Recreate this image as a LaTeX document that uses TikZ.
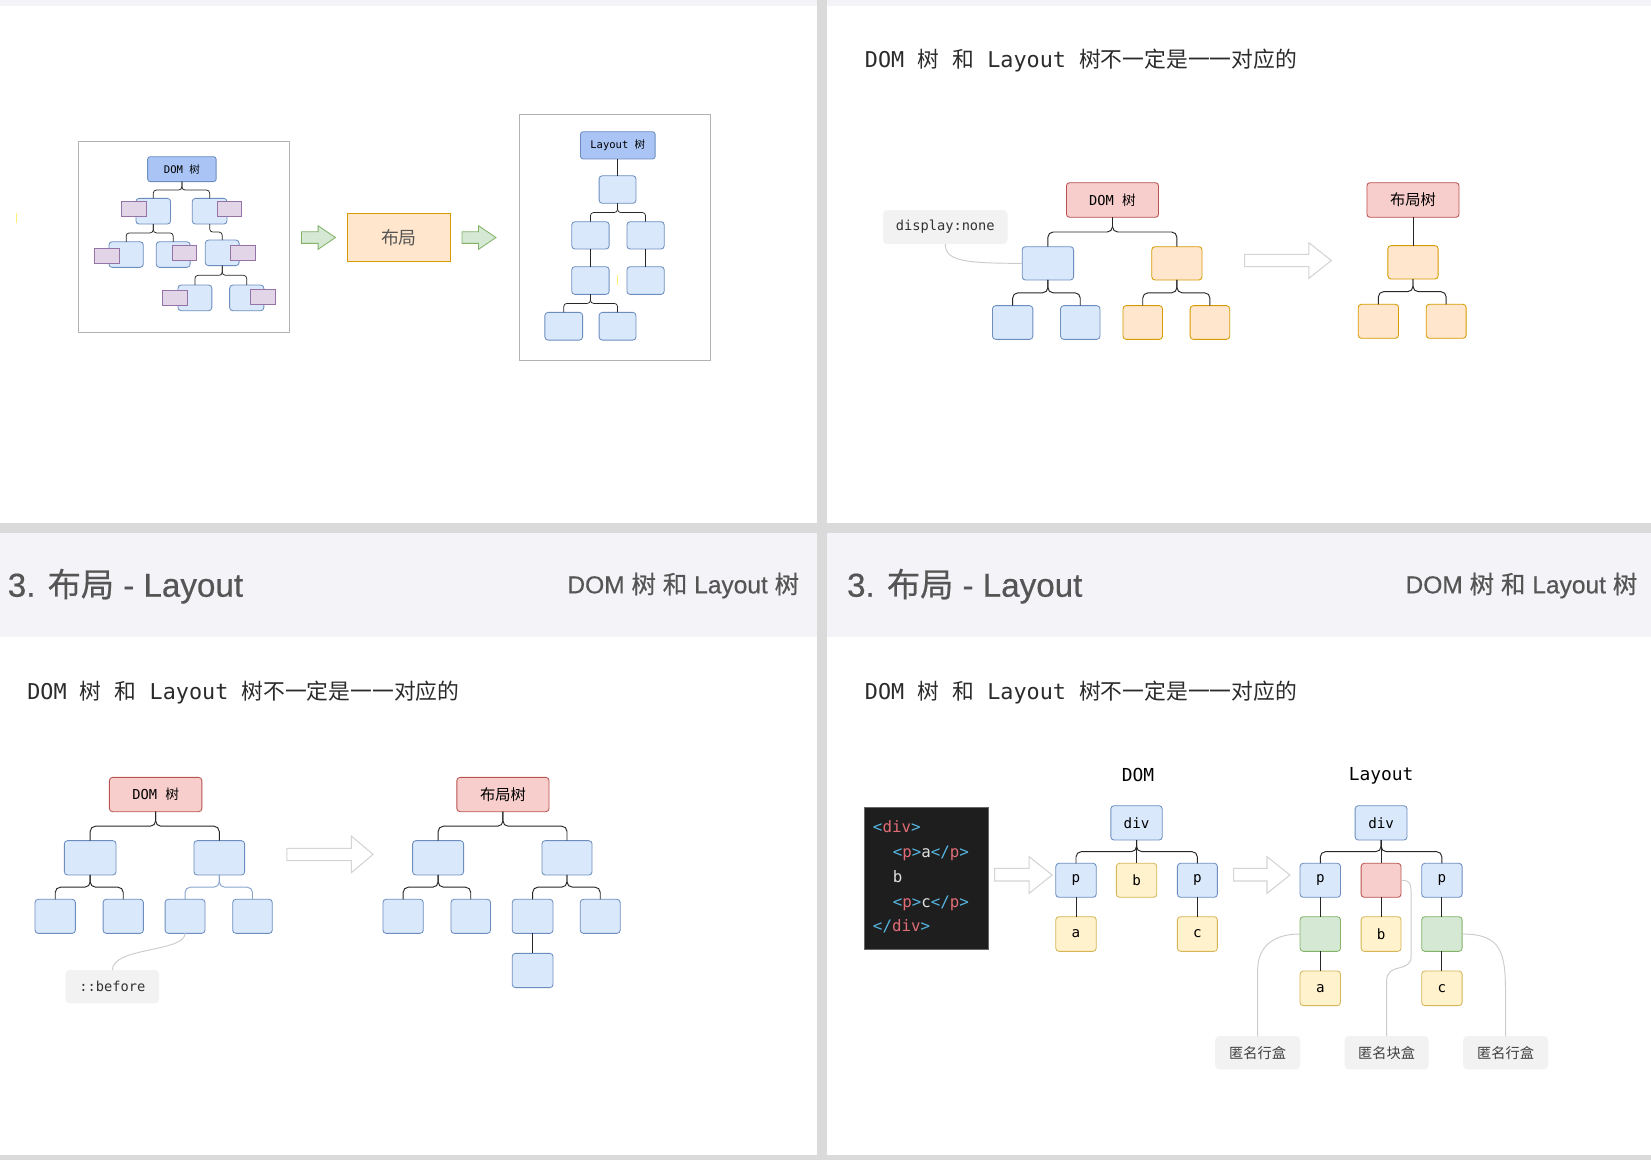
\documentclass[tikz,border=0pt]{standalone}
\usepackage{fontspec}
\setmainfont{Liberation Sans}
\setmonofont{DejaVu Sans Mono}
\newfontfamily\cjk{Noto Sans CJK SC}
\newfontfamily\hdrlat[FakeBold=0.5]{Liberation Sans}
\newfontfamily\hdrcjk[FakeBold=0.5]{Noto Sans CJK SC}
\usetikzlibrary{calc}
\newcommand\zhs[1]{{\cjk #1}}
\newcommand\zhh[1]{{\hdrcjk #1}}
\newcommand\fsz[1]{\fontsize{#1}{#1}\selectfont}
\definecolor{lav}{HTML}{F4F3F8}
\definecolor{divg}{HTML}{DADADA}
\definecolor{bfill}{HTML}{DAE8FC}\definecolor{bdraw}{HTML}{6C8EBF}
\definecolor{ofill}{HTML}{FFE6CC}\definecolor{odraw}{HTML}{D79B00}
\definecolor{rfill}{HTML}{F8CECC}\definecolor{rdraw}{HTML}{B85450}
\definecolor{yfill}{HTML}{FFF2CC}\definecolor{ydraw}{HTML}{D6B656}
\definecolor{gfill}{HTML}{D5E8D4}\definecolor{gdraw}{HTML}{82B366}
\definecolor{pfill}{HTML}{E1D5E7}\definecolor{pdraw}{HTML}{9673A6}
\definecolor{hfill}{HTML}{A9C4F5}
\definecolor{lbl}{HTML}{F2F2F2}
\definecolor{txt}{HTML}{2B2B2B}
\definecolor{hdr}{HTML}{555555}
\definecolor{codebg}{HTML}{1E1E1E}
\definecolor{cbr}{HTML}{56B6E2}
\definecolor{ctag}{HTML}{E06C75}
\definecolor{notec}{HTML}{CCCCCC}
\definecolor{harr}{HTML}{D4D4D4}
\definecolor{yel}{HTML}{FFF176}
\newcommand\cb[1]{\textcolor{cbr}{#1}}
\newcommand\ct[1]{\textcolor{ctag}{#1}}
\newcommand\ttitle{{\ttfamily\fsz{20.7}DOM \zhs{树} \zhs{和} Layout \zhs{树不一定是一一对应的}}}
\newcommand\hleft{{\hdrlat\fsz{31.5}3. \zhh{布局} - Layout}}
\newcommand\hright{{\hdrlat\fsz{23.3}DOM \zhh{树} \zhh{和} Layout \zhh{树}}}
\newcommand\bx[7]{\node[#1, minimum width={(#4)-(#2)}, minimum height={(#5)-(#3)}] (#6) at ({((#2)+(#4))/2},{((#3)+(#5))/2}) {#7};}
\newcommand\barrow[8]{\draw[#1] (#2,#5) -- (#3,#5) -- (#3,#7) -- (#4,{((#7)+(#8))/2}) -- (#3,#8) -- (#3,#6) -- (#2,#6) -- cycle;}
\tikzset{
  nbase/.style={rectangle, inner sep=0pt, outer sep=0pt, line width=0.8pt},
  bl/.style={nbase, draw=bdraw, fill=bfill, rounded corners=3pt},
  og/.style={nbase, draw=odraw, fill=ofill, rounded corners=3pt},
  rd/.style={nbase, draw=rdraw, fill=rfill, rounded corners=3pt},
  yw/.style={nbase, draw=ydraw, fill=yfill, rounded corners=3pt},
  gn/.style={nbase, draw=gdraw, fill=gfill, rounded corners=3pt},
  pu/.style={nbase, draw=pdraw, fill=pfill},
  hd/.style={nbase, draw=bdraw, fill=hfill, rounded corners=2.5pt},
  frame/.style={nbase, draw=black!30, fill=white},
  lb/.style={nbase, fill=lbl, rounded corners=4pt, text=black!80},
  tree/.style={draw=black!85, line width=0.9pt, rounded corners=5pt,
    to path={|- ($(\tikztostart)!0.5!(\tikztotarget)$) -| (\tikztotarget)}},
  tree1/.style={tree, line width=0.7pt, rounded corners=3pt},
  vline/.style={draw=black!85, line width=0.9pt,
    to path={-- (\tikztostart |- \tikztotarget)}},
  vline1/.style={vline, line width=0.7pt},
  note/.style={draw=notec, line width=0.9pt},
  garrow/.style={draw=gdraw, fill=gfill, line width=0.8pt},
  harrow/.style={draw=harr, fill=white, line width=1pt},
  ntxt/.style={inner sep=0pt, outer sep=0pt}
}
\begin{document}
\begin{tikzpicture}[x=1pt,y=-1pt]
\useasboundingbox (0,0) rectangle (1568,1102);
% background
\fill[white] (0,0) rectangle (1568,1102);
\fill[lav] (0,0) rectangle (1568,5.7);
\fill[lav] (0,506.2) rectangle (776,605);
\fill[lav] (785,506.2) rectangle (1568,605);
\fill[divg] (0,496.7) rectangle (1568,506.2);
\fill[divg] (0,1097) rectangle (1568,1102);
\fill[divg] (776,0) rectangle (785,1102);

% ================= panel 1 =================
\draw[yel, line width=1pt] (15.8,202) -- (15.8,212);
\bx{frame}{74.7}{134.6}{275.3}{316.0}{f1}{}
\bx{frame}{493.6}{108.6}{674.9}{342.0}{f2}{}
\bx{hd}{140.2}{148.8}{205.3}{172.5}{d0}{\ttfamily\fsz{10}DOM \zhs{树}}
\bx{bl}{129.1}{188.4}{162.0}{212.8}{dA}{}
\bx{bl}{182.6}{188.4}{215.6}{212.8}{dB}{}
\bx{bl}{103.5}{229.6}{136.1}{253.9}{dC}{}
\bx{bl}{148.4}{229.6}{180.6}{253.9}{dD}{}
\bx{bl}{195.0}{228.0}{227.1}{252.3}{dE}{}
\bx{bl}{169.0}{270.7}{201.2}{295.1}{dF}{}
\bx{bl}{218.1}{270.7}{250.6}{295.1}{dG}{}
\draw[tree1] (d0.south) to (dA.north);
\draw[tree1] (d0.south) to (dB.north);
\draw[tree1] (dA.south) to (dC.north);
\draw[tree1] (dA.south) to (dD.north);
\draw[tree1] (dB.south) to (dE.north);
\draw[tree1] (dE.south) to (dF.north);
\draw[tree1] (dE.south) to (dG.north);
\bx{pu}{115.1}{191.6}{138.6}{205.8}{pA}{}
\bx{pu}{206.1}{191.6}{229.2}{205.8}{pB}{}
\bx{pu}{89.5}{235.9}{113.0}{250.1}{pC}{}
\bx{pu}{163.3}{233.4}{186.7}{247.6}{pD}{}
\bx{pu}{218.9}{233.4}{242.4}{247.6}{pE}{}
\bx{pu}{154.6}{275.5}{178.1}{289.7}{pF}{}
\bx{pu}{238.2}{274.5}{261.7}{288.8}{pG}{}

\barrow{garrow}{286.4}{302.1}{318.6}{220.1}{231.1}{214.4}{236.8}
\bx{nbase, draw=odraw, fill=ofill, line width=1pt}{330.1}{202.6}{427.7}{248.6}{lay}{\cjk\fsz{17}\color{hdr}布局}
\barrow{garrow}{438.8}{454.5}{471.0}{220.1}{231.1}{214.4}{236.8}

\bx{hd}{551.3}{125.1}{622.2}{151.0}{l0}{\ttfamily\fsz{10}Layout \zhs{树}}
\bx{bl}{569.0}{166.9}{604.0}{193.1}{l1}{}
\bx{bl}{543.0}{210.6}{578.5}{236.5}{l2a}{}
\bx{bl}{595.4}{210.6}{630.8}{236.5}{l2b}{}
\bx{bl}{543.0}{253.3}{578.5}{279.6}{l3a}{}
\bx{bl}{595.4}{253.3}{630.8}{279.6}{l3b}{}
\bx{bl}{517.5}{296.7}{553.3}{323.0}{l4a}{}
\bx{bl}{569.0}{296.7}{604.0}{323.0}{l4b}{}
\draw[vline1] (l0.south) to (l1.north);
\draw[tree1] (l1.south) to (l2a.north);
\draw[tree1] (l1.south) to (l2b.north);
\draw[vline1] (l2a.south) to (l3a.north);
\draw[vline1] (l2b.south) to (l3b.north);
\draw[tree1] (l3a.south) to (l4a.north);
\draw[tree1] (l3a.south) to (l4b.north);
\draw[yel, line width=0.8pt] (586.3,261.2) -- (586.3,270.7);

% ================= panel 2 =================
\node[ntxt, anchor=base west, text=txt] (t2) at (821.5,63.9) {\ttitle};
\bx{lb}{838.6}{199.5}{956.9}{231.8}{disp}{\ttfamily\fsz{13}\raisebox{-1.5pt}{display:none}}
\bx{rd}{1012.8}{173.5}{1100.3}{206.4}{r0}{\ttfamily\fsz{13}DOM \zhs{树}}
\bx{bl}{970.8}{234.3}{1019.6}{265.9}{bL}{}
\bx{og}{1093.9}{234.3}{1141.6}{265.9}{oR}{}
\bx{bl}{942.6}{290.3}{980.9}{322.3}{bL1}{}
\bx{bl}{1007.2}{290.3}{1044.7}{322.3}{bL2}{}
\bx{og}{1066.5}{290.3}{1104.1}{322.3}{oR1}{}
\bx{og}{1130.3}{290.3}{1167.9}{322.3}{oR2}{}
\draw[tree] (r0.south) to (bL.north);
\draw[tree] (r0.south) to (oR.north);
\draw[tree] (bL.south) to (bL1.north);
\draw[tree] (bL.south) to (bL2.north);
\draw[tree] (oR.south) to (oR1.north);
\draw[tree] (oR.south) to (oR2.north);
\draw[note] (disp.south) .. controls +(0,16) and +(-55,0) .. (bL.west);
\barrow{harrow}{1182.1}{1243.0}{1264.4}{241.6}{253.3}{230.5}{264.4}
\bx{rd}{1298.2}{173.5}{1385.7}{206.4}{r1}{\cjk\fsz{14.5}布局树}
\bx{og}{1318.1}{233.3}{1365.8}{265.0}{o1}{}
\bx{og}{1289.9}{289.0}{1328.2}{321.3}{o11}{}
\bx{og}{1354.5}{289.0}{1392.4}{321.3}{o12}{}
\draw[vline] (r1.south) to (o1.north);
\draw[tree] (o1.south) to (o11.north);
\draw[tree] (o1.south) to (o12.north);

% ================= panel 3 =================
\node[ntxt, anchor=base west, text=hdr] (h3) at (7.4,566.7) {\hleft};
\node[ntxt, anchor=base east, text=hdr] (h3r) at (759,563.5) {\hright};
\node[ntxt, anchor=base west, text=txt] (t3) at (26,663.9) {\ttitle};
\bx{rd}{103.9}{738.3}{191.7}{770.9}{r3}{\ttfamily\fsz{13}DOM \zhs{树}}
\bx{bl}{61.1}{798.4}{110.2}{831.0}{b3L}{}
\bx{bl}{184.2}{798.4}{232.3}{831.0}{b3R}{}
\bx{bl}{33.3}{854.1}{71.6}{886.4}{c1}{}
\bx{bl}{97.9}{854.1}{136.2}{886.4}{c2}{}
\bx{bl}{156.8}{854.1}{194.7}{886.4}{c3}{}
\bx{bl}{221.0}{854.1}{258.6}{886.4}{c4}{}
\draw[tree] (r3.south) to (b3L.north);
\draw[tree] (r3.south) to (b3R.north);
\draw[tree] (b3L.south) to (c1.north);
\draw[tree] (b3L.south) to (c2.north);
\draw[tree, draw=bdraw!80] (b3R.south) to (c3.north);
\draw[tree, draw=bdraw!80] (b3R.south) to (c4.north);
\bx{lb}{62.2}{921.3}{151.2}{952.9}{bef}{\ttfamily\fsz{13}\raisebox{-1pt}{::before}}
\draw[note] (bef.north) .. controls +(0,-22) and +(0,18) .. (c3.south);
\barrow{harrow}{272.5}{333.7}{354.3}{805.7}{817.4}{794.0}{828.8}
\bx{rd}{433.9}{738.3}{521.4}{770.9}{r4}{\cjk\fsz{14.5}布局树}
\bx{bl}{391.9}{798.4}{440.3}{831.0}{b4L}{}
\bx{bl}{514.7}{798.4}{562.3}{831.0}{b4R}{}
\bx{bl}{363.7}{854.1}{402.0}{886.4}{e1}{}
\bx{bl}{428.3}{854.1}{465.9}{886.4}{e2}{}
\bx{bl}{486.5}{854.1}{525.2}{886.4}{e3}{}
\bx{bl}{551.1}{854.1}{589.0}{886.4}{e4}{}
\bx{bl}{486.5}{905.4}{525.2}{938.0}{e5}{}
\draw[tree] (r4.south) to (b4L.north);
\draw[tree] (r4.south) to (b4R.north);
\draw[tree] (b4L.south) to (e1.north);
\draw[tree] (b4L.south) to (e2.north);
\draw[tree] (b4R.south) to (e3.north);
\draw[tree] (b4R.south) to (e4.north);
\draw[vline] (e3.south) to (e5.north);

% ================= panel 4 =================
\node[ntxt, anchor=base west, text=hdr] (h4) at (804.5,566.7) {\hleft};
\node[ntxt, anchor=base east, text=hdr] (h4r) at (1555,563.5) {\hright};
\node[ntxt, anchor=base west, text=txt] (t4) at (821.5,663.9) {\ttitle};
\node[ntxt, anchor=base] (ldom) at (1080.8,742.4) {\ttfamily\fsz{17}DOM};
\node[ntxt, anchor=base] (llay) at (1311.7,740.8) {\ttfamily\fsz{17}Layout};
\bx{nbase, draw=black!60, fill=codebg}{821.3}{767.1}{939.0}{901.3}{code}{}
\begin{scope}[every node/.style={ntxt, anchor=mid west, font=\ttfamily\fsz{15}, text=white!88!black}]
\node (k1) at (829.1,788.2) {\cb{<}\ct{div}\cb{>}};
\node (k2) at (847.9,811.9) {\cb{<}\ct{p}\cb{>}a\cb{</}\ct{p}\cb{>}};
\node (k3) at (847.9,835.1) {b};
\node (k4) at (847.9,858.8) {\cb{<}\ct{p}\cb{>}c\cb{</}\ct{p}\cb{>}};
\node (k5) at (829.1,881.6) {\cb{</}\ct{div}\cb{>}};
\end{scope}
\barrow{harrow}{944.7}{977.4}{999.2}{824.7}{836.7}{813.6}{848.4}
\bx{bl}{1055.0}{765.2}{1103.8}{797.8}{dv}{\ttfamily\fsz{13.5}div}
\bx{bl}{1002.7}{819.9}{1041.1}{852.2}{p1}{\ttfamily\fsz{13.5}p}
\bx{yw}{1060.2}{819.9}{1098.6}{852.2}{pb}{\ttfamily\fsz{13.5}b}
\bx{bl}{1118.2}{819.9}{1156.2}{852.2}{p2}{\ttfamily\fsz{13.5}p}
\bx{yw}{1002.7}{870.6}{1041.1}{903.5}{pa}{\ttfamily\fsz{13.5}a}
\bx{yw}{1118.2}{870.6}{1156.2}{903.5}{pc}{\ttfamily\fsz{13.5}c}
\draw[tree] (dv.south) to (p1.north);
\draw[vline] (dv.south) to (pb.north);
\draw[tree] (dv.south) to (p2.north);
\draw[vline] (p1.south) to (pa.north);
\draw[vline] (p2.south) to (pc.north);
\barrow{harrow}{1171.5}{1203.3}{1225.1}{824.7}{836.7}{813.6}{848.4}
\bx{bl}{1287.0}{765.2}{1336.3}{797.8}{lv}{\ttfamily\fsz{13.5}div}
\bx{bl}{1234.7}{819.9}{1273.1}{852.2}{q1}{\ttfamily\fsz{13.5}p}
\bx{rd}{1292.7}{819.9}{1330.6}{852.2}{qr}{}
\bx{bl}{1350.2}{819.9}{1388.6}{852.2}{q2}{\ttfamily\fsz{13.5}p}
\bx{gn}{1234.7}{870.6}{1273.1}{903.5}{g1}{}
\bx{yw}{1292.7}{870.6}{1330.6}{903.5}{qb}{\ttfamily\fsz{13.5}b}
\bx{gn}{1350.2}{870.6}{1388.6}{903.5}{g2}{}
\bx{yw}{1234.7}{922.2}{1273.1}{955.1}{qa}{\ttfamily\fsz{13.5}a}
\bx{yw}{1350.2}{922.2}{1388.6}{955.1}{qc}{\ttfamily\fsz{13.5}c}
\draw[tree] (lv.south) to (q1.north);
\draw[vline] (lv.south) to (qr.north);
\draw[tree] (lv.south) to (q2.north);
\draw[vline] (q1.south) to (g1.north);
\draw[vline] (g1.south) to (qa.north);
\draw[vline] (qr.south) to (qb.north);
\draw[vline] (q2.south) to (g2.north);
\draw[vline] (g2.south) to (qc.north);
\bx{lb}{1154.0}{984.0}{1234.7}{1015.6}{n1}{\cjk\fsz{13.5}\color{black!75}匿名行盒}
\bx{lb}{1277.0}{984.0}{1356.8}{1015.6}{n2}{\cjk\fsz{13.5}\color{black!75}匿名块盒}
\bx{lb}{1389.5}{984.0}{1470.2}{1015.6}{n3}{\cjk\fsz{13.5}\color{black!75}匿名行盒}
\draw[note] (n1.north) -- ++(0,-62) .. controls +(0,-26) and +(-22,0) .. (g1.west);
\draw[note] (qr.east) .. controls +(8,0) and (1340.2,838) .. (1340.2,850) -- (1340.2,908) .. controls (1340.2,925) and (1316.9,913) .. (1316.9,932) -- (n2.north);
\draw[note] (g2.east) .. controls +(38,0) and (1429.85,905) .. (1429.85,945) -- (n3.north);
\end{tikzpicture}
\end{document}
